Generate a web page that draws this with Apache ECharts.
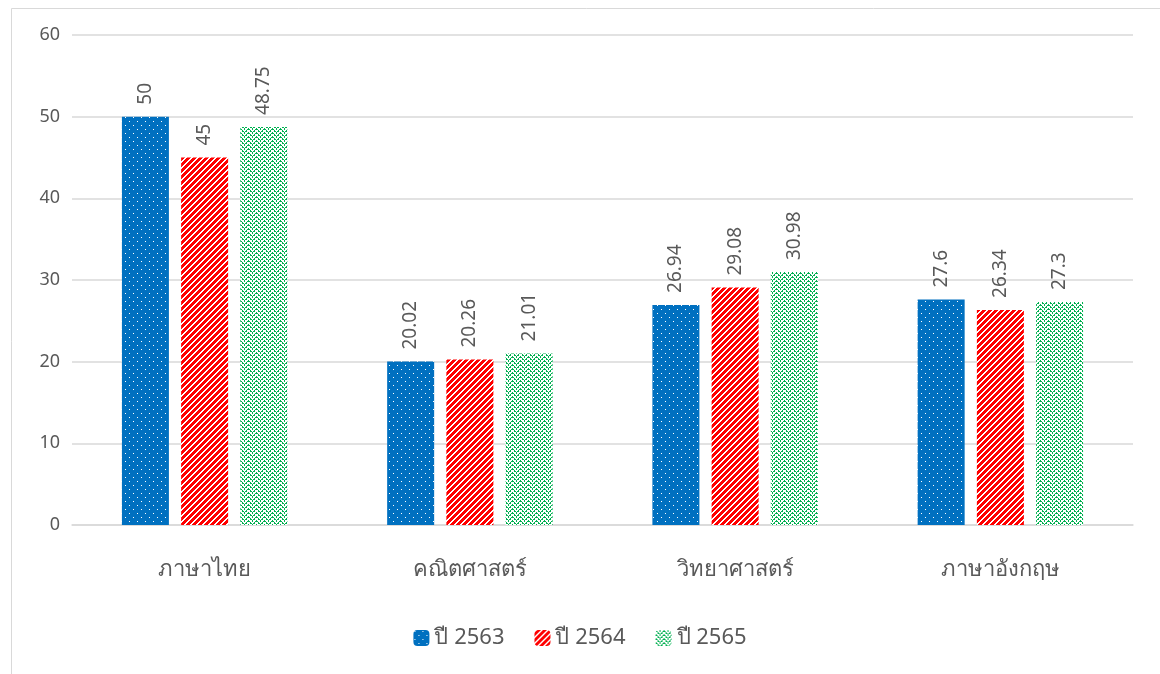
<!DOCTYPE html>
<html><head><meta charset="utf-8">
<script src="https://cdn.jsdelivr.net/npm/echarts@6/dist/echarts.min.js"></script>
<style>html,body{margin:0;padding:0;background:#fff}#c{width:1160px;height:674px}</style>
</head><body><div id="c"></div>
<script>
const categories = ['ภาษาไทย', 'คณิตศาสตร์', 'วิทยาศาสตร์', 'ภาษาอังกฤษ'];
const seriesNames = ['ปี 2563', 'ปี 2564', 'ปี 2565'];
const values2563 = [50, 20.02, 26.94, 27.6];
const values2564 = [45, 20.26, 29.08, 26.34];
const values2565 = [48.75, 21.01, 30.98, 27.3];
const yTicks = [0, 10, 20, 30, 40, 50, 60];

function makeTile(w, h, fn) {
  const c = document.createElement('canvas');
  c.width = w; c.height = h;
  const ctx = c.getContext('2d');
  const img = ctx.createImageData(w, h);
  for (let y = 0; y < h; y++) for (let x = 0; x < w; x++) {
    const col = fn(x, y);
    const i = (y * w + x) * 4;
    img.data[i] = col[0]; img.data[i+1] = col[1]; img.data[i+2] = col[2]; img.data[i+3] = 255;
  }
  ctx.putImageData(img, 0, 0);
  return c;
}
const BLUE = [0, 112, 192], WHITE = [255, 255, 255], RED = [255, 0, 0], GREEN = [0, 176, 80];
const blueTile = makeTile(8, 8, (x, y) => ((x === 1 && y === 1) || (x === 5 && y === 5)) ? WHITE : BLUE);
const redTile = makeTile(6, 6, (x, y) => ((x + y) % 6 < 2) ? WHITE : RED);
const greenTile = makeTile(8, 8, (x, y) => {
  const f = x < 4 ? x : 8 - x;
  const m = (((y - f) % 4) + 4) % 4;
  return (m === 0 || (m === 1 && (x % 2 === 0))) ? GREEN : WHITE;
});
const fills = [blueTile, redTile, greenTile];
const dataSets = [values2563, values2564, values2565];

const chart = echarts.init(document.getElementById('c'));
const font = "'Noto Sans', 'DejaVu Sans', sans-serif";
chart.setOption({
  backgroundColor: '#fff',
  animation: false,
  textStyle: { fontFamily: font },
  graphic: [{ type: 'rect', left: 9, top: 6, shape: { width: 1200, height: 700 }, style: { fill: 'none', stroke: '#d9d9d9', lineWidth: 1 }, silent: true }],
  grid: { left: 72, right: 27, top: 35, bottom: 149 },
  legend: {
    bottom: 20, left: 'center', itemWidth: 16, itemHeight: 16, itemGap: 30,
    textStyle: { color: '#595959', fontSize: 22, fontFamily: font },
    data: seriesNames
  },
  xAxis: {
    type: 'category', data: categories,
    axisLine: { lineStyle: { color: '#d9d9d9', width: 1.5 } },
    axisTick: { show: false },
    axisLabel: { color: '#595959', fontSize: 22, margin: 34, fontFamily: font }
  },
  yAxis: {
    type: 'value', min: 0, max: 60, interval: 10,
    axisLine: { show: false }, axisTick: { show: false },
    splitLine: { lineStyle: { color: '#d9d9d9', width: 1.5 } },
    axisLabel: { color: '#595959', fontSize: 18, margin: 12, fontFamily: font,
      formatter: v => yTicks.includes(v) ? String(v) : '' }
  },
  series: dataSets.map((d, i) => ({
    name: seriesNames[i], type: 'bar', data: d,
    barWidth: 47, barGap: '26%',
    itemStyle: { color: { image: fills[i], repeat: 'repeat' } },
    label: { show: true, position: 'top', rotate: 90, align: 'left', verticalAlign: 'middle',
      distance: 12, color: '#595959', fontSize: 19, fontFamily: font }
  }))
});
</script></body></html>
